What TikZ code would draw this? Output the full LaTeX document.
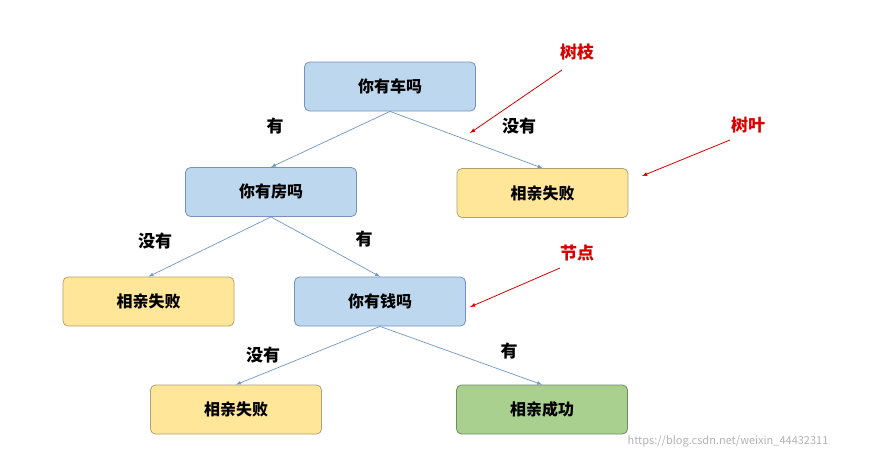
\documentclass[tikz,border=0pt]{standalone}
\usepackage{fontspec}
\setmainfont{Noto Sans CJK SC}
\begin{document}
\begin{tikzpicture}[x=1pt,y=-1pt,
  box/.style={rounded corners=5pt, minimum width=171pt, minimum height=49pt, font=\fontsize{16}{18}\selectfont\bfseries, line width=0.8pt},
  bluebox/.style={box, fill={rgb,255:red,189;green,215;blue,238}, draw={rgb,255:red,120;green,145;blue,185}},
  yelbox/.style={box, fill={rgb,255:red,255;green,230;blue,153}, draw={rgb,255:red,180;green,160;blue,110}},
  grnbox/.style={box, fill={rgb,255:red,169;green,208;blue,142}, draw={rgb,255:red,110;green,140;blue,100}},
  edge/.style={draw={rgb,255:red,110;green,150;blue,200}, line width=0.7pt, -latex},
  lbl/.style={font=\fontsize{17}{19}\selectfont\bfseries},
  rlbl/.style={font=\fontsize{17}{19}\selectfont\bfseries, text=red!85!black},
  redarr/.style={draw=red!85!black, line width=0.8pt, -latex}]
\useasboundingbox (0,0) rectangle (875,459);
\node[bluebox] (car) at (390,86.5) {你有车吗};
\node[yelbox] (f1) at (542.5,193) {相亲失败};
\node[bluebox] (house) at (271,192) {你有房吗};
\node[yelbox] (f2) at (148.5,301.5) {相亲失败};
\node[bluebox] (money) at (380,301.5) {你有钱吗};
\node[yelbox] (f3) at (236,409.5) {相亲失败};
\node[grnbox] (ok) at (542,409.5) {相亲成功};
\draw[edge] (car.south) -- (house.north);
\draw[edge] (car.south) -- (f1.north);
\draw[edge] (house.south) -- (f2.north);
\draw[edge] (house.south) -- (money.north);
\draw[edge] (money.south) -- (f3.north);
\draw[edge] (money.south) -- (ok.north);
\node[lbl] (l1) at (275,126) {有};
\node[lbl] (l2) at (519,126) {没有};
\node[lbl] (l3) at (155,241) {没有};
\node[lbl] (l4) at (364,239) {有};
\node[lbl] (l5) at (263,355) {没有};
\node[lbl] (l6) at (509,351) {有};
\node[rlbl] (r1) at (577,52) {树枝};
\node[rlbl] (r2) at (748,125) {树叶};
\node[rlbl] (r3) at (577,253) {节点};
\coordinate (a1) at (562,70); \coordinate (b1) at (470,133);
\coordinate (a2) at (730,140); \coordinate (b2) at (642,176);
\coordinate (a3) at (560,268); \coordinate (b3) at (470,307);
\draw[redarr] (a1) -- (b1);
\draw[redarr] (a2) -- (b2);
\draw[redarr] (a3) -- (b3);
\node[font=\fontsize{11}{13}\selectfont, text=gray!60] (wm) at (728,441) {https://blog.csdn.net/weixin\_44432311};
\end{tikzpicture}
\end{document}
